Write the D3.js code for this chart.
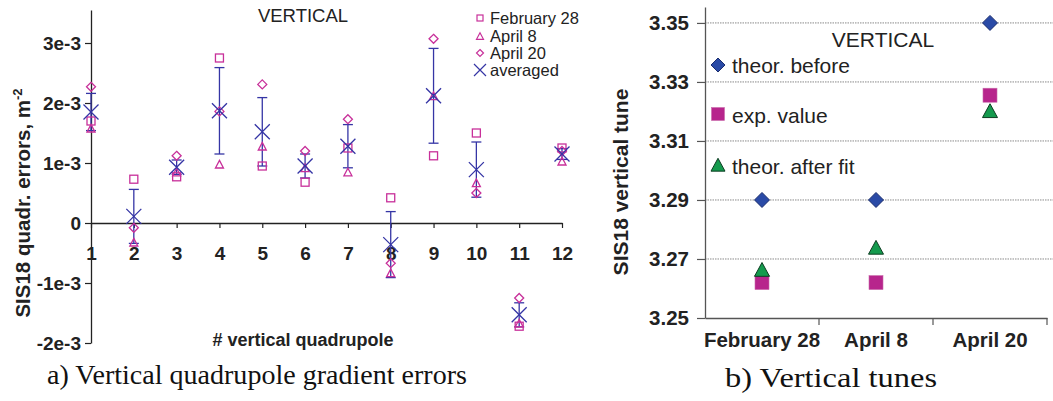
<!DOCTYPE html>
<html><head><meta charset="utf-8">
<script src="https://cdn.jsdelivr.net/npm/d3@7"></script>
<style>
body{margin:0;background:#fff;}
svg{display:block;}
.sans{font-family:"Liberation Sans",Arial,sans-serif;}
</style></head>
<body>
<svg id="c" width="1053" height="401"></svg>
<script>
// ---------- Left chart data ----------
const quads = [1,2,3,4,5,6,7,8,9,10,11,12];
const feb28 = [1.70,0.73,0.77,2.75,0.95,0.68,1.25,0.42,1.12,1.50,-1.72,1.25];
const apr8  = [1.58,-0.32,0.85,0.98,1.28,0.92,0.85,-0.83,2.12,0.67,-1.67,1.03];
const apr20 = [2.27,-0.08,1.12,1.86,2.31,1.20,1.73,-0.67,3.07,0.50,-1.25,1.20];
const avg   = [1.85,0.11,0.93,1.87,1.52,0.95,1.28,-0.36,2.12,0.89,-1.53,1.15];
const err   = [0.31,0.45,0.12,0.72,0.57,0.20,0.36,0.55,0.79,0.46,0.20,0.09];
const yTicksL = [-2,-1,0,1,2,3];
const yTickLabelsL = ["-2e-3","-1e-3","0","1e-3","2e-3","3e-3"];
const legendL = ["February 28","April 8","April 20","averaged"];

// ---------- Right chart data ----------
const dates = ["February 28","April 8","April 20"];
const theorBefore = [3.29,3.29,3.35];
const expValue = [3.262,3.262,3.3255];
const theorAfter = [3.266,3.2735,3.3198];
const yTicksR = [3.25,3.27,3.29,3.31,3.33,3.35];
const legendR = ["theor. before","exp. value","theor. after fit"];

const svg = d3.select("#c");
const PINK = "#c8309a", BLUE = "#3535a5", DARK = "#222";
const SANS = "'Liberation Sans',Arial,sans-serif";

// ================= LEFT =================
const xL = d3.scaleLinear().domain([1,12]).range([91,562]);
const yL = d3.scaleLinear().domain([-2,3.55]).range([343,10]);
const gL = svg.append("g").attr("class","sans");

const yAx = gL.append("g").attr("transform","translate(91,0)")
  .call(d3.axisLeft(yL).tickValues(yTicksL).tickSize(6).tickPadding(4)
    .tickFormat((d,i)=>yTickLabelsL[i]).tickSizeOuter(0));
yAx.select(".domain").attr("stroke",DARK).attr("stroke-width",1.3);
yAx.selectAll(".tick line").attr("stroke",DARK).attr("stroke-width",1.2);
yAx.selectAll(".tick text").attr("font-size",19).attr("font-weight","bold").attr("fill",DARK)
  .attr("font-family",SANS);

const xAx = gL.append("g").attr("transform",`translate(0,${yL(0)})`)
  .call(d3.axisBottom(xL).tickValues(quads).tickSize(5).tickPadding(19).tickFormat(d3.format("d")).tickSizeOuter(0));
xAx.select(".domain").attr("stroke",DARK).attr("stroke-width",1.3);
xAx.selectAll(".tick line").attr("stroke",DARK).attr("stroke-width",1.2);
xAx.selectAll(".tick text").attr("font-size",19).attr("font-weight","bold").attr("fill",DARK)
  .attr("font-family",SANS);

function square(g,cx,cy,s,color,sw){g.append("rect").attr("x",cx-s/2).attr("y",cy-s/2).attr("width",s).attr("height",s).attr("fill","none").attr("stroke",color).attr("stroke-width",sw);}
function tri(g,cx,cy,s,color,sw){const h=s*0.95;g.append("path").attr("d",`M${cx},${cy-h/2}L${cx+s/2},${cy+h/2}L${cx-s/2},${cy+h/2}Z`).attr("fill","none").attr("stroke",color).attr("stroke-width",sw);}
function diam(g,cx,cy,s,color,sw){g.append("path").attr("d",`M${cx},${cy-s/2}L${cx+s/2},${cy}L${cx},${cy+s/2}L${cx-s/2},${cy}Z`).attr("fill","none").attr("stroke",color).attr("stroke-width",sw);}
function cross(g,cx,cy,s,color,sw){g.append("path").attr("d",`M${cx-s/2},${cy-s/2}L${cx+s/2},${cy+s/2}M${cx+s/2},${cy-s/2}L${cx-s/2},${cy+s/2}`).attr("fill","none").attr("stroke",color).attr("stroke-width",sw);}

const pts = gL.append("g");
quads.forEach((q,i)=>{
  const cx = xL(q);
  const y1 = yL(avg[i]+err[i]), y2 = yL(avg[i]-err[i]);
  pts.append("line").attr("x1",cx).attr("x2",cx).attr("y1",y1).attr("y2",y2).attr("stroke",BLUE).attr("stroke-width",1.3);
  [y1,y2].forEach(yy=>pts.append("line").attr("x1",cx-5).attr("x2",cx+5).attr("y1",yy).attr("y2",yy).attr("stroke",BLUE).attr("stroke-width",1.3));
  square(pts,cx,yL(feb28[i]),8,PINK,1.3);
  tri(pts,cx,yL(apr8[i]),8,PINK,1.3);
  diam(pts,cx,yL(apr20[i]),9,PINK,1.3);
  cross(pts,cx,yL(avg[i]),15,BLUE,1.3);
});

gL.append("text").attr("x",303).attr("y",22).attr("text-anchor","middle").attr("font-size",18.5).attr("fill",DARK).text("VERTICAL");

const legY = [18,36,53,70];
const lg = gL.append("g");
legendL.forEach((t,i)=>{
  const cx = 480, cy = legY[i];
  if(i===0) square(lg,cx,cy,6,PINK,1.2);
  if(i===1) tri(lg,cx,cy,7,PINK,1.2);
  if(i===2) diam(lg,cx,cy,7,PINK,1.2);
  if(i===3) cross(lg,cx,cy,12,BLUE,1.2);
  lg.append("text").attr("x",490).attr("y",cy+6).attr("font-size",16.5).attr("fill",DARK).text(t);
});

gL.append("text").attr("transform","translate(30,203) rotate(-90)").attr("text-anchor","middle")
  .attr("font-size",20.5).attr("font-weight","bold").attr("fill",DARK)
  .call(t=>{t.append("tspan").text("SIS18 quadr. errors, m");t.append("tspan").attr("dy",-8).attr("font-size",13).text("-2");});
gL.append("text").attr("x",303).attr("y",346).attr("text-anchor","middle").attr("font-size",18).attr("font-weight","bold").attr("fill",DARK).text("# vertical quadrupole");

svg.append("text").attr("x",257).attr("y",384).attr("text-anchor","middle").attr("font-family","'Liberation Serif','DejaVu Serif',serif").attr("font-size",28).attr("fill","#111")
  .attr("textLength",420).attr("lengthAdjust","spacingAndGlyphs").text("a) Vertical quadrupole gradient errors");

// ================= RIGHT =================
const xR = d3.scaleBand().domain(dates).range([705,1047]);
const yR = d3.scaleLinear().domain([3.25,3.3554]).range([318,7]);
const gR = svg.append("g").attr("class","sans");

gR.append("g").selectAll("line").data(yTicksR.slice(1)).join("line")
  .attr("x1",705).attr("x2",1053).attr("y1",d=>yR(d)).attr("y2",d=>yR(d))
  .attr("stroke","#8a8a8a").attr("stroke-width",1).attr("stroke-dasharray","1.5,1");

const yAxR = gR.append("g").attr("transform","translate(705,0)")
  .call(d3.axisLeft(yR).tickValues(yTicksR).tickSize(8).tickPadding(8).tickFormat(d3.format(".2f")).tickSizeOuter(0));
yAxR.select(".domain").attr("stroke","#555").attr("stroke-width",1.3);
yAxR.selectAll(".tick line").attr("stroke","#555").attr("stroke-width",1.2);
yAxR.selectAll(".tick text").attr("font-size",20.5).attr("font-weight","bold").attr("fill",DARK)
  .attr("font-family",SANS);

const xAxR = gR.append("g").attr("transform","translate(0,318)")
  .call(d3.axisBottom(xR).tickSize(0).tickPadding(14).tickSizeOuter(0));
xAxR.select(".domain").attr("stroke","#555").attr("stroke-width",1.3);
xAxR.selectAll(".tick text").attr("font-size",20.5).attr("font-weight","bold").attr("fill",DARK)
  .attr("font-family",SANS);
gR.append("g").selectAll("line").data(dates).join("line")
  .attr("x1",d=>xR(d)+xR.bandwidth()).attr("x2",d=>xR(d)+xR.bandwidth())
  .attr("y1",318).attr("y2",325).attr("stroke","#555").attr("stroke-width",1.2);

const BL="#2a4aa6", MG="#b7258c", GR="#149a4d";
function fDiam(g,cx,cy,s){g.append("path").attr("d",`M${cx},${cy-s/2}L${cx+s/2},${cy}L${cx},${cy+s/2}L${cx-s/2},${cy}Z`).attr("fill",BL).attr("stroke","#1b2d6e").attr("stroke-width",1);}
function fSq(g,cx,cy,s){g.append("rect").attr("x",cx-s/2).attr("y",cy-s/2).attr("width",s).attr("height",s).attr("fill",MG).attr("stroke","#c86aaa").attr("stroke-width",0.6);}
function fTri(g,cx,cy,s){const h=s*0.92;g.append("path").attr("d",`M${cx},${cy-h*0.6}L${cx+s/2},${cy+h*0.4}L${cx-s/2},${cy+h*0.4}Z`).attr("fill",GR).attr("stroke","#0d3d22").attr("stroke-width",1);}

const pR = gR.append("g");
dates.forEach((d,i)=>{
  const cx = xR(d)+xR.bandwidth()/2;
  fSq(pR,cx,yR(expValue[i]),14);
  fTri(pR,cx,yR(theorAfter[i]),15);
  fDiam(pR,cx,yR(theorBefore[i]),15);
});

gR.append("text").attr("x",883).attr("y",47).attr("text-anchor","middle").attr("font-size",21).attr("fill",DARK).text("VERTICAL");
const lgR = [65,114,166];
const lgOff = [8,9,7.5];
legendR.forEach((t,i)=>{
  const cx=718, cy=lgR[i];
  if(i===0) fDiam(gR,cx,cy,14);
  if(i===1) fSq(gR,cx,cy,13);
  if(i===2) fTri(gR,cx,cy,14);
  gR.append("text").attr("x",732).attr("y",cy+lgOff[i]).attr("font-size",21).attr("fill",DARK).text(t);
});

gR.append("text").attr("transform","translate(628,182) rotate(-90)").attr("text-anchor","middle")
  .attr("font-size",21).attr("font-weight","bold").attr("fill",DARK).text("SIS18 vertical tune");

svg.append("text").attr("x",831).attr("y",387).attr("text-anchor","middle").attr("font-family","'Liberation Serif','DejaVu Serif',serif").attr("font-size",28).attr("fill","#111")
  .attr("textLength",212).attr("lengthAdjust","spacingAndGlyphs").text("b) Vertical tunes");
</script>
</body></html>
